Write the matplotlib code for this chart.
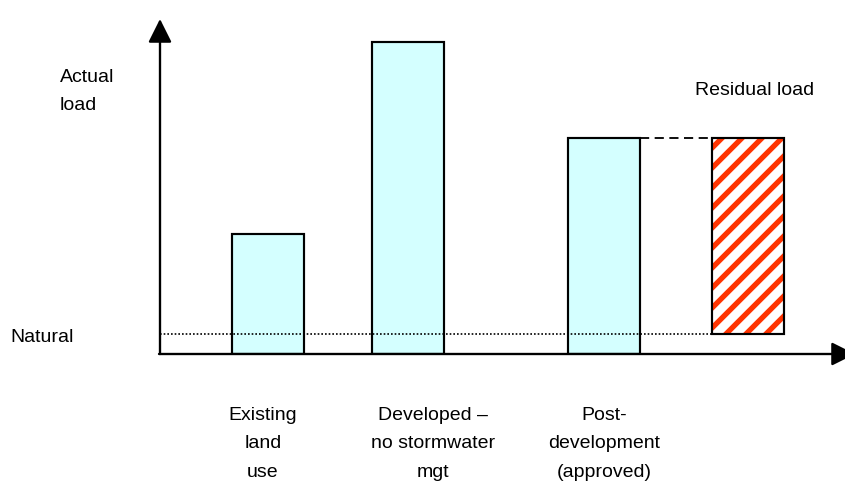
import matplotlib
matplotlib.use("Agg")
import matplotlib.pyplot as plt

# bar data (load units)
labels = ["Existing\nland\nuse", "Developed \u2013\nno stormwater\nmgt", "Post-\ndevelopment\n(approved)"]
x_pos = [1.08, 2.48, 4.44]
label_x = [1.03, 2.73, 4.44]
loads = [1.20, 3.12, 2.16]
natural = 0.20
residual_x = 5.88
residual_top = 2.16
bar_w = 0.72

plt.rcParams["font.family"] = ["Liberation Sans", "DejaVu Sans"]
plt.rcParams["font.size"] = 11.7
plt.rcParams["hatch.linewidth"] = 3.2

dpi = 120
fig = plt.figure(figsize=(845 / dpi, 482 / dpi), dpi=dpi)
ax = fig.add_axes([160 / 845, 128 / 482, 685 / 845, 335 / 482])
ax.set_xlim(0, 6.85)
ax.set_ylim(0, 3.35)
ax.axis("off")

ax.bar(x_pos, loads, width=bar_w, color="#d4ffff", edgecolor="black", linewidth=1.3, zorder=2)

# residual load (hatched)
ax.bar(residual_x, residual_top - natural, bottom=natural, width=bar_w, color="white",
       edgecolor="#ff3300", hatch="//", linewidth=0, zorder=2)
ax.bar(residual_x, residual_top - natural, bottom=natural, width=bar_w, fill=False,
       edgecolor="black", linewidth=1.3, zorder=3)

# natural level and dashed link
ax.plot([0, residual_x - bar_w / 2], [natural, natural], color="black", lw=1.0,
        linestyle=(0, (1, 1.2)), zorder=3)
ax.plot([x_pos[2] + bar_w / 2, residual_x - bar_w / 2], [residual_top, residual_top],
        color="black", lw=1.1, linestyle=(0, (5, 3)), zorder=1)

# axes arrows
arrow = dict(arrowstyle="-|>,head_length=1.0,head_width=0.5", mutation_scale=12,
             lw=1.4, color="black", shrinkA=0, shrinkB=0)
ax.annotate("", xy=(0, 3.35), xytext=(0, 0), arrowprops=arrow, annotation_clip=False)
ax.annotate("", xy=(6.95, 0), xytext=(-0.01, 0), arrowprops=arrow, annotation_clip=False)

# text
ax.text(-1.0, 2.44, "Actual\nload", ha="left", va="baseline", linespacing=1.82, clip_on=False)
ax.text(-1.5, 0.12, "Natural", ha="left", va="baseline", clip_on=False)
ax.text(5.35, 2.59, "Residual load", ha="left", va="baseline", clip_on=False)
for lx, lab in zip(label_x, labels):
    ax.text(lx, -1.23, lab, ha="center", va="baseline", linespacing=1.9, clip_on=False)

fig.savefig("out.png", dpi=dpi)
